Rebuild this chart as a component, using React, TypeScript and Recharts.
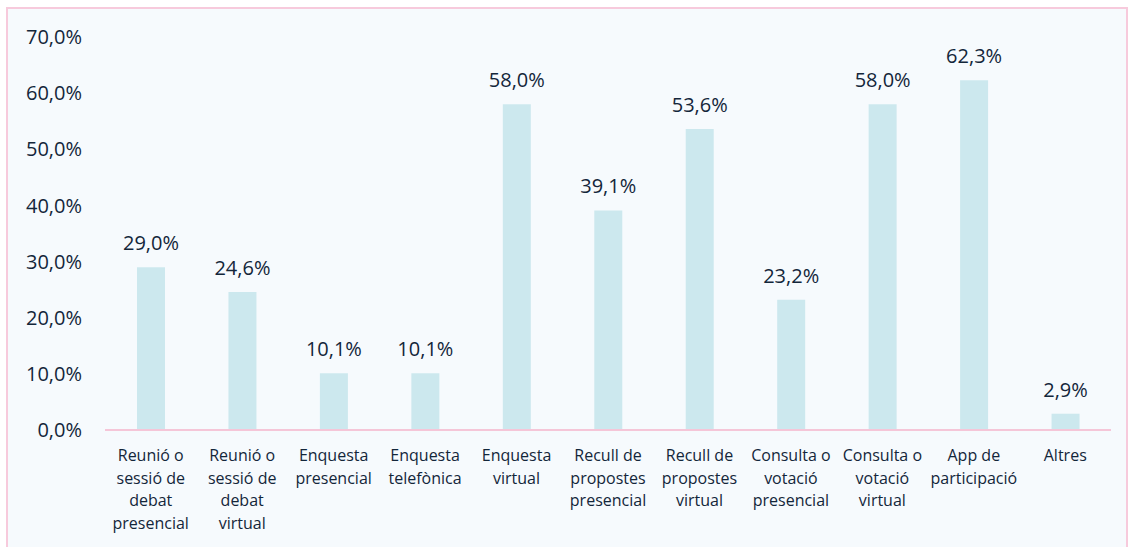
import { BarChart, Bar, XAxis, YAxis, LabelList } from 'recharts';

const categories = [
  'Reunió o\nsessió de\ndebat\npresencial',
  'Reunió o\nsessió de\ndebat\nvirtual',
  'Enquesta\npresencial',
  'Enquesta\ntelefònica',
  'Enquesta\nvirtual',
  'Recull de\npropostes\npresencial',
  'Recull de\npropostes\nvirtual',
  'Consulta o\nvotació\npresencial',
  'Consulta o\nvotació\nvirtual',
  'App de\nparticipació',
  'Altres',
];
const values = [29.0, 24.6, 10.1, 10.1, 58.0, 39.1, 53.6, 23.2, 58.0, 62.3, 2.9];
const yTicks = [0, 10, 20, 30, 40, 50, 60, 70];

const data = categories.map((name, i) => ({ name, value: values[i] }));

const textColor = '#13263a';
const font = "'Open Sans', 'Noto Sans', sans-serif";
const fmt = (v: number) => v.toFixed(1).replace('.', ',') + '%';

function CategoryTick(props: any) {
  const { x, y, payload } = props;
  const lines = String(payload.value).split('\n');
  return (
    <text x={x} y={y} textAnchor="middle" fill={textColor} fontSize={16} fontFamily={font}>
      {lines.map((l, i) => (
        <tspan key={i} x={x} dy={i === 0 ? 23 : 22.5}>
          {l}
        </tspan>
      ))}
    </text>
  );
}

export default function App() {
  return (
    <div
      style={{
        position: 'fixed',
        left: 0,
        top: 0,
        width: 1132,
        height: 547,
        background: '#ffffff',
      }}
    >
      <div
        style={{
          position: 'absolute',
          left: 6,
          top: 7,
          width: 1118,
          height: 545,
          border: '2px solid #f7cadc',
          background: '#f6fafd',
        }}
      />
      <div style={{ position: 'absolute', left: 0, top: 0 }}>
        <BarChart
          width={1132}
          height={547}
          data={data}
          margin={{ top: 37, right: 21, left: 0, bottom: 0 }}
          barCategoryGap={0}
        >
          <XAxis
            dataKey="name"
            interval={0}
            tickLine={false}
            axisLine={{ stroke: '#f5c6d8', strokeWidth: 2 }}
            tick={<CategoryTick />}
            height={117}
          />
          <YAxis
            width={105}
            domain={[0, 70]}
            ticks={yTicks}
            tickFormatter={fmt}
            axisLine={false}
            tickLine={false}
            tickMargin={17}
            tick={{ fill: textColor, fontSize: 20, fontFamily: font }}
          />
          <Bar dataKey="value" fill="#cce8ee" barSize={28} isAnimationActive={false}>
            <LabelList
              dataKey="value"
              position="top"
              offset={17}
              formatter={(v: any) => fmt(Number(v))}
              fill={textColor}
              fontSize={20}
              fontFamily={font}
            />
          </Bar>
        </BarChart>
      </div>
    </div>
  );
}
